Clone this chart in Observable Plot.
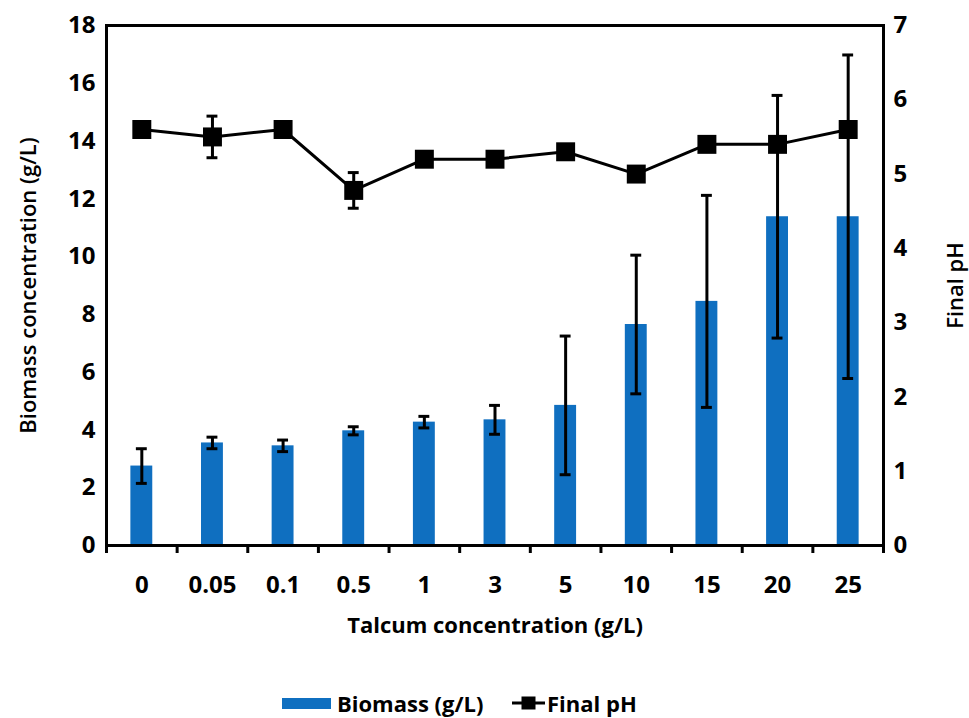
<!DOCTYPE html>
<html>
<head>
<meta charset="utf-8">
<script src="https://cdn.jsdelivr.net/npm/d3@7"></script>
<script src="https://cdn.jsdelivr.net/npm/@observablehq/plot@0.6"></script>
<style>
  html, body { margin: 0; padding: 0; background: #fff; overflow: hidden; }
  #chart { width: 969px; height: 660px; }
  #chart svg { display: block; }
  .legend { position: relative; width: 969px; height: 58px; font-family: 'Open Sans', sans-serif; font-weight: bold; font-size: 22px; line-height: 24px; color: #000; }
  .legend .item { position: absolute; top: 31px; height: 24px; display: flex; align-items: center; white-space: nowrap; }
  .legend .swatch { width: 49px; height: 11px; background: #0F6FC0; margin-right: 6px; }
</style>
</head>
<body>
<div id="chart"></div>
<div class="legend">
  <div class="item" style="left:282px"><div class="swatch"></div><span>Biomass (g/L)</span></div>
  <div class="item" style="left:512px"><svg width="33" height="16" style="margin-right:2px;display:block"><line x1="0" y1="8" x2="33" y2="8" stroke="#000" stroke-width="3"/><rect x="9.5" y="1.5" width="14" height="13" fill="#000"/></svg><span>Final pH</span></div>
</div>
<script>
const categories = ["0", "0.05", "0.1", "0.5", "1", "3", "5", "10", "15", "20", "25"];
const biomass    = [2.75, 3.55, 3.45, 3.97, 4.27, 4.35, 4.85, 7.65, 8.45, 11.38, 11.38];
const biomassErr = [0.6, 0.2, 0.2, 0.14, 0.2, 0.5, 2.4, 2.4, 3.67, 4.2, 5.6];
const finalPH    = [5.6, 5.5, 5.6, 4.78, 5.2, 5.2, 5.3, 5.0, 5.4, 5.4, 5.6];
const finalPHErr = [0, 0.28, 0, 0.24, 0, 0, 0, 0, 0, 0, 0];
const leftTicks  = [0, 2, 4, 6, 8, 10, 12, 14, 16, 18];
const rightTicks = [0, 1, 2, 3, 4, 5, 6, 7];
const xTitle = "Talcum concentration (g/L)";
const yTitle = "Biomass concentration (g/L)";
const y2Title = "Final pH";

const k = 18 / 7; // pH -> left-axis units
const data = categories.map((c, i) => ({
  cat: c, b: biomass[i], be: biomassErr[i], ph: finalPH[i] * k, pe: finalPHErr[i] * k
}));
const phErrData = data.filter(d => d.pe > 0);

const W = 969, H = 660, mL = 106, mR = 86, mT = 25, mB = 115;
const step = (W - mL - mR) / categories.length;

const chart = Plot.plot({
  width: W, height: H,
  marginLeft: mL, marginRight: mR, marginTop: mT, marginBottom: mB,
  style: { fontFamily: "'Open Sans', sans-serif", fontSize: "24px", fontWeight: "bold", color: "#000", background: "#fff" },
  x: { domain: categories, paddingInner: 0.69, paddingOuter: 0.345, round: false },
  y: { domain: [0, 18] },
  marks: [
    Plot.barY(data, { x: "cat", y: "b", fill: "#0F6FC0" }),
    Plot.ruleX(data, { x: "cat", y1: d => d.b - d.be, y2: d => d.b + d.be, stroke: "#000", strokeWidth: 3 }),
    Plot.tickY(data, { x: "cat", y: d => d.b - d.be, stroke: "#000", strokeWidth: 3, insetLeft: 5.5, insetRight: 5.5 }),
    Plot.tickY(data, { x: "cat", y: d => d.b + d.be, stroke: "#000", strokeWidth: 3, insetLeft: 5.5, insetRight: 5.5 }),
    Plot.line(data, { x: "cat", y: "ph", stroke: "#000", strokeWidth: 3 }),
    Plot.ruleX(phErrData, { x: "cat", y1: d => d.ph - d.pe, y2: d => d.ph + d.pe, stroke: "#000", strokeWidth: 3 }),
    Plot.tickY(phErrData, { x: "cat", y: d => d.ph - d.pe, stroke: "#000", strokeWidth: 3, insetLeft: 5.5, insetRight: 5.5 }),
    Plot.tickY(phErrData, { x: "cat", y: d => d.ph + d.pe, stroke: "#000", strokeWidth: 3, insetLeft: 5.5, insetRight: 5.5 }),
    Plot.dot(data, { x: "cat", y: "ph", symbol: "square", r: 10.7, fill: "#000", stroke: "none" }),
    Plot.frame({ stroke: "#000", strokeWidth: 3 }),
    Plot.axisY({ ticks: leftTicks, tickSize: 0, tickPadding: 11, label: null }),
    Plot.axisY({ anchor: "right", ticks: rightTicks.map(v => v * k), tickFormat: d => String(Math.round(d / k)), tickSize: 0, tickPadding: 10, label: null }),
    Plot.axisX({ tickSize: 0, tickPadding: 30, label: null }),
    Plot.axisX({ tickSize: 8, tickFormat: () => "", dx: -step / 2, strokeWidth: 3, label: null }),
    Plot.axisX({ ticks: [categories[categories.length - 1]], tickSize: 8, tickFormat: () => "", dx: step / 2, strokeWidth: 3, label: null }),
    Plot.text([xTitle], { text: d => d, frameAnchor: "bottom", lineAnchor: "middle", textAnchor: "middle", dy: 80, fontSize: 22, fontWeight: "bold" }),
    Plot.text([yTitle], { text: d => d, frameAnchor: "left", lineAnchor: "middle", textAnchor: "middle", rotate: -90, dx: -78, fontSize: 22, fontWeight: 600 }),
    Plot.text([y2Title], { text: d => d, frameAnchor: "right", lineAnchor: "middle", textAnchor: "middle", rotate: -90, dx: 72, fontSize: 22, fontWeight: 600 })
  ]
});
document.getElementById("chart").appendChild(chart);
</script>
</body>
</html>
